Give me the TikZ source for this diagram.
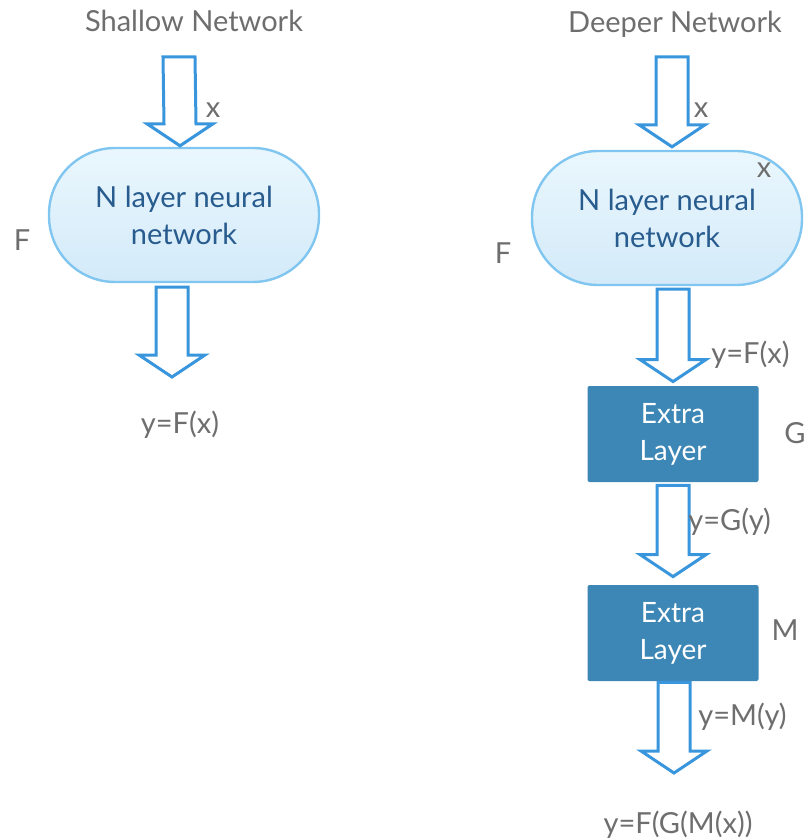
\documentclass[tikz,border=0pt]{standalone}
\usepackage{fontspec}
\setmainfont{Lato}
\usepackage{xcolor}
\definecolor{nnblue}{RGB}{58,150,220}
\definecolor{nnedge}{RGB}{128,198,240}
\definecolor{nntop}{RGB}{234,247,253}
\definecolor{nnbottom}{RGB}{211,234,249}
\definecolor{nntext}{RGB}{40,92,142}
\definecolor{nnlayer}{RGB}{61,135,182}
\definecolor{nngray}{RGB}{110,110,110}
\usetikzlibrary{calc}

% hollow block arrow from #1 (top of shaft) to #2 (tip)
\newcommand{\fatarrow}[2]{%
  \coordinate (fa-s) at #1; \coordinate (fa-t) at #2;
  \draw[fat] ($(fa-s)+(-16,0)$) -- ($(fa-t)+(-16,-22)$) -- ($(fa-t)+(-33,-22)$) -- (fa-t)
    -- ($(fa-t)+(33,-22)$) -- ($(fa-t)+(16,-22)$) -- ($(fa-s)+(16,0)$) -- cycle;}

\begin{document}
\begin{tikzpicture}[x=0.5pt,y=-0.5pt,
  txt/.style={font=\fontsize{14.5}{18.5}\selectfont,text=nngray,inner sep=0pt},
  net/.style={rectangle,rounded corners=33pt,draw=nnedge,line width=1.2pt,top color=nntop,bottom color=nnbottom,
    text=nntext,align=center,minimum width=135pt,minimum height=67pt,font=\fontsize{14.5}{18.5}\selectfont},
  extra/.style={rectangle,fill=nnlayer,text=white,align=center,rounded corners=1pt,
    minimum width=85.5pt,minimum height=48pt,font=\fontsize{14}{18.5}\selectfont},
  fat/.style={draw=nnblue,fill=white,line width=1.5pt,line join=miter}
]
  \useasboundingbox (0,0) rectangle (804,839);

  % Shallow Network
  \node[txt] (title1) at (194,21) {Shallow Network};
  \coordinate (in1) at (179,57);
  \node[net] (net1) at (184,215) {N layer neural\\network};
  \coordinate (out1) at (172,377);
  \node[txt] (res1) at (180,425) {y=F(x)};
  \fatarrow{(in1)}{($(net1.north)+(-4,-1)$)}
  \fatarrow{($(net1.south)+(-12,4)$)}{(out1)}
  \node[txt] (x1) at (213,110) {x};
  \node[txt] (f1) at (22,240) {F};

  % Deeper Network
  \node[txt] (title2) at (675,24) {Deeper Network};
  \coordinate (in2) at (672,57);
  \node[net] (net2) at (667,218) {N layer neural\\network};
  \node[extra] (g) at (673,434) {Extra\\Layer};
  \node[extra] (m) at (673,633) {Extra\\Layer};
  \coordinate (out2) at (674,773);
  \node[txt] (res2) at (678,825) {y=F(G(M(x))};
  \fatarrow{(in2)}{($(net2.north)+(5,-3)$)}
  \fatarrow{($(net2.south)+(6,3)$)}{($(g.north)+(0,-4)$)}
  \fatarrow{($(g.south)+(0,3)$)}{($(m.north)+(0,-8)$)}
  \fatarrow{($(m.south)+(1,1)$)}{(out2)}
  \node[txt] (x2) at (701,110) {x};
  \node[txt] (x3) at (764,170) {x};
  \node[txt] (f2) at (503,253) {F};
  \node[txt,anchor=west] (yf) at (711,355) {y=F(x)};
  \node[txt] (glab) at (795,433) {G};
  \node[txt,anchor=west] (yg) at (688,522) {y=G(y)};
  \node[txt] (mlab) at (785,630) {M};
  \node[txt,anchor=west] (ym) at (698,717) {y=M(y)};
\end{tikzpicture}
\end{document}
